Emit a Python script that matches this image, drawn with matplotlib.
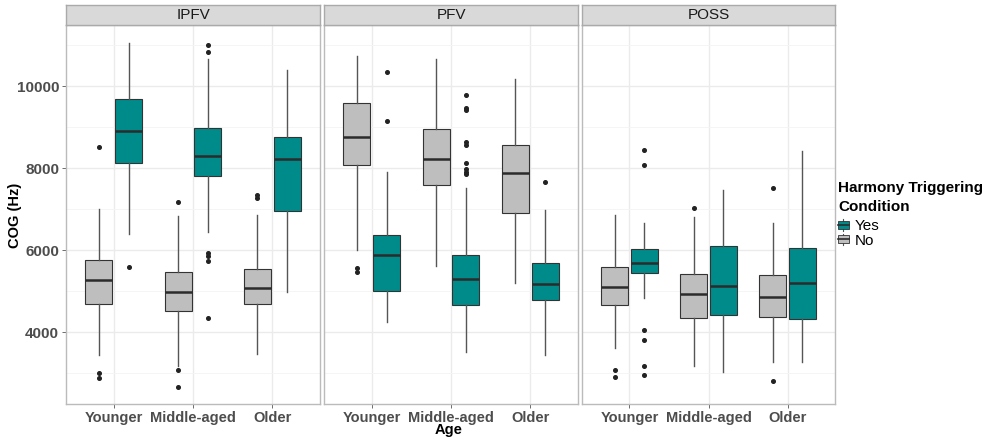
import matplotlib
matplotlib.use("Agg")
import matplotlib.pyplot as plt
from matplotlib.patches import Rectangle
from matplotlib.lines import Line2D
from matplotlib.legend_handler import HandlerBase

plt.rcParams['font.family'] = ['Liberation Sans', 'DejaVu Sans']

panels = ["IPFV", "PFV", "POSS"]
ages = ["Younger", "Middle-aged", "Older"]
conditions = ["No", "Yes"]          # plotting order within each age (left, right)
legend_order = ["Yes", "No"]
legend_title = "Harmony Triggering\nCondition"

# per age: [lower whisker, Q1, median, Q3, upper whisker]
IPFV_NO = [[3440, 4680, 5270, 5760, 7000],
           [3170, 4510, 4980, 5460, 6830],
           [3460, 4680, 5080, 5545, 6850]]
IPFV_YES = [[6390, 8120, 8900, 9680, 11040],
            [6430, 7805, 8290, 8975, 10650],
            [4970, 6950, 8230, 8765, 10400]]
PFV_NO = [[6000, 8065, 8765, 9585, 10740],
          [5620, 7580, 8220, 8945, 10650],
          [5190, 6900, 7880, 8555, 10160]]
PFV_YES = [[4245, 5000, 5880, 6375, 7910],
           [3505, 4665, 5300, 5870, 7520],
           [3430, 4780, 5170, 5685, 6970]]
POSS_NO = [[3610, 4665, 5105, 5580, 6855],
           [3180, 4350, 4920, 5415, 6805],
           [3260, 4360, 4845, 5390, 6650]]
POSS_YES = [[4820, 5440, 5690, 6015, 6650],
            [3025, 4415, 5130, 6090, 7470],
            [3275, 4315, 5195, 6040, 8420]]

# outliers per age
IPFV_NO_OUT = [[8510, 3010, 2890], [7165, 3065, 2650], [7335, 7260]]
IPFV_YES_OUT = [[5595], [11000, 10820, 5920, 5855, 5740, 4350], []]
PFV_NO_OUT = [[5550, 5470], [], []]
PFV_YES_OUT = [[10335, 9145], [9780, 9465, 9415, 8635, 8555, 8120, 7975, 7910, 7855], [7660]]
POSS_NO_OUT = [[3080, 2895], [7030], [7505, 2815]]
POSS_YES_OUT = [[8440, 8065, 4050, 3805, 3165, 2960], [], []]

stats = {
    "IPFV": {"No": (IPFV_NO, IPFV_NO_OUT), "Yes": (IPFV_YES, IPFV_YES_OUT)},
    "PFV": {"No": (PFV_NO, PFV_NO_OUT), "Yes": (PFV_YES, PFV_YES_OUT)},
    "POSS": {"No": (POSS_NO, POSS_NO_OUT), "Yes": (POSS_YES, POSS_YES_OUT)},
}

colors = {"No": "#BEBEBE", "Yes": "#008B8B"}
yticks = [4000, 6000, 8000, 10000]
minor_ticks = [3000, 5000, 7000, 9000, 11000]

W, H = 988, 438
fig = plt.figure(figsize=(W / 100, H / 100), dpi=100)

panel_px = [(66, 320), (324, 578), (582, 835)]
top_px, bot_px = 25, 404
strip_px = 20

edge_col = "#333333"
whisk_col = "#555555"
grid_col = "#EBEBEB"
tick_col = "#4D4D4D"

axes = []
for i, (name, (x0, x1)) in enumerate(zip(panels, panel_px)):
    ax = fig.add_axes([x0 / W, 1 - bot_px / H, (x1 - x0) / W, (bot_px - top_px) / H])
    axes.append(ax)
    ax.set_xlim(0.4, 3.6)
    ax.set_ylim(2244, 11488)
    ax.set_yticks(yticks)
    ax.set_yticks(minor_ticks, minor=True)
    ax.set_xticks(range(1, 4))
    ax.set_xticklabels(ages)
    ax.grid(True, which="major", color=grid_col, lw=1.0, zorder=0)
    ax.grid(True, which="minor", axis="y", color="#F4F4F4", lw=0.6, zorder=0)
    ax.set_axisbelow(True)
    for s in ax.spines.values():
        s.set_color("#BBBBBB")
        s.set_linewidth(1.0)
    ax.tick_params(axis="both", which="major", length=3, color="#555555", width=0.6,
                   labelsize=10.5, labelcolor=tick_col, pad=2)
    ax.tick_params(axis="y", which="major", labelsize=11)
    ax.tick_params(axis="both", which="minor", length=0)
    for lab in ax.get_xticklabels() + ax.get_yticklabels():
        lab.set_fontweight("bold")
    if i > 0:
        ax.tick_params(axis="y", labelleft=False, length=0)

    for j, cond in enumerate(conditions):
        boxes, outs = stats[name][cond]
        bxp_stats = []
        for k in range(3):
            lo, q1, med, q3, hi = boxes[k]
            bxp_stats.append(dict(whislo=lo, q1=q1, med=med, q3=q3, whishi=hi, fliers=outs[k]))
        pos = [k + 1 + (-0.1875 if cond == "No" else 0.1875) for k in range(3)]
        ax.bxp(bxp_stats, positions=pos, widths=0.3375, patch_artist=True, showcaps=False,
               boxprops=dict(facecolor=colors[cond], edgecolor=edge_col, lw=0.8),
               medianprops=dict(color="#2B2B2B", lw=1.8),
               whiskerprops=dict(color=whisk_col, lw=1.0),
               flierprops=dict(marker="o", markersize=2.6, markerfacecolor="#222222",
                               markeredgecolor="#222222"),
               manage_ticks=False, zorder=3)

    # strip
    sax = fig.add_axes([x0 / W, 1 - top_px / H, (x1 - x0) / W, strip_px / H])
    sax.set_xticks([]); sax.set_yticks([])
    sax.set_facecolor("#D9D9D9")
    for s in sax.spines.values():
        s.set_color("#AAAAAA")
        s.set_linewidth(1.0)
    sax.text(0.5, 0.5, name, ha="center", va="center", fontsize=11, color="#1A1A1A",
             transform=sax.transAxes)

fig.text(15 / W, 1 - 215 / H, "COG (Hz)", rotation=90, ha="center", va="center",
         fontsize=10.5, fontweight="bold", color="black")
fig.text(449 / W, 1 - 430 / H, "Age", ha="center", va="center",
         fontsize=10.5, fontweight="bold", color="black")


class BoxHandler(HandlerBase):
    def create_artists(self, legend, orig_handle, xdescent, ydescent, width, height, fontsize, trans):
        fc = orig_handle.get_facecolor()
        cx = -xdescent + width / 2
        bw = width * 0.9
        bh = height * 0.7
        by = -ydescent + (height - bh) / 2
        arts = []
        arts.append(Line2D([cx, cx], [-ydescent, -ydescent + height], color=whisk_col, lw=0.8, transform=trans))
        arts.append(Rectangle((cx - bw / 2, by), bw, bh, facecolor=fc, edgecolor=edge_col, lw=0.6, transform=trans))
        arts.append(Line2D([cx - bw / 2, cx + bw / 2], [by + bh / 2, by + bh / 2], color="#2B2B2B", lw=1.2, transform=trans))
        return arts


# legend title
fig.text(838 / W, 1 - 197.5 / H, legend_title, ha="left", va="center", fontsize=11,
         fontweight="bold", color="black", linespacing=1.45)

handles = [Rectangle((0, 0), 1, 1, facecolor=colors[c]) for c in legend_order]
leg = fig.legend(handles, legend_order, handler_map={Rectangle: BoxHandler()},
                 loc="center left", bbox_to_anchor=(837 / W, 1 - 233.5 / H),
                 frameon=False, fontsize=11,
                 handlelength=0.8, handleheight=0.75,
                 handletextpad=0.35, labelspacing=0.02, borderaxespad=0, borderpad=0.0)

fig.savefig("out.png", dpi=100)
